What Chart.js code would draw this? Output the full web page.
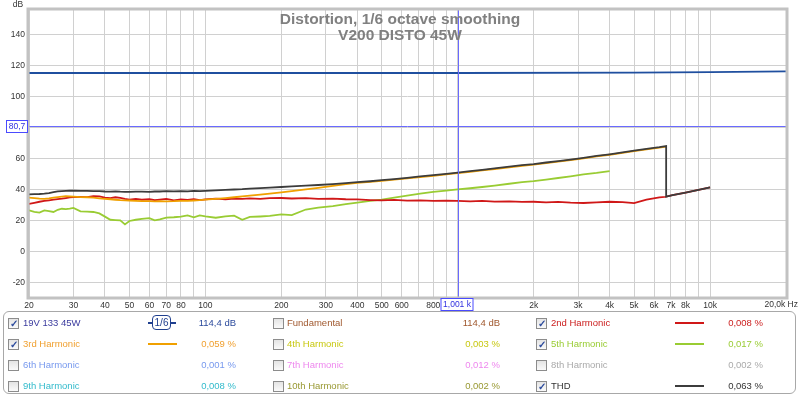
<!DOCTYPE html>
<html>
<head>
<meta charset="utf-8">
<script src="https://cdn.jsdelivr.net/npm/chart.js@4.4.0/dist/chart.umd.min.js"></script>
<style>
  body { margin: 0; background: #fff; font-family: "Liberation Sans", Arial, sans-serif; }
  #wrap { position: relative; width: 800px; height: 398px; overflow: hidden; }
  #chart { position: absolute; left: 0; top: 0; }
  #title { position: absolute; left: 0; top: 11px; width: 800px; text-align: center; color: #808080;
    font-weight: bold; font-size: 15.5px; line-height: 16px; pointer-events: none; }
  #panel { position: absolute; left: 3px; top: 311px; width: 793px; height: 83px;
    border: 1px solid #a8a8a8; border-radius: 6px; box-sizing: border-box; }
  .it { position: absolute; font-size: 9.5px; height: 12px; line-height: 12px; white-space: nowrap; }
  .cb { position: absolute; width: 9px; height: 9px; border: 1px solid #8c8c8c;
    background: linear-gradient(#e4e4e4, #fafafa); color: #2b4a9c; font-size: 10px; line-height: 9px;
    text-align: center; font-weight: bold; }
  .sw { position: absolute; height: 2px; width: 29px; }
  .smooth { position: absolute; width: 28px; height: 16px; }
  .smooth .ln { position: absolute; top: 7px; height: 2px; background: #1f3f8f; }
  .smooth .bx { position: absolute; left: 4px; top: 0; width: 17px; height: 13px; border: 1.5px solid #1f3f8f;
    border-radius: 4px; background: #fff; font-size: 10px; line-height: 13px; text-align: center; color: #1f3f8f; }
</style>
</head>
<body>
<div id="wrap">
  <canvas id="chart" width="800" height="398"></canvas>
  <div id="title">Distortion, 1/6 octave smoothing<br>V200 DISTO 45W</div>
  <div id="panel"></div>
</div>
<script>
// frequencies (Hz) shared by the harmonic curves; 6700 appears twice for the THD step
const freqs = [20, 21, 22, 23, 24, 25, 26, 27, 28, 29, 30, 32, 34, 36, 38, 40, 42, 44, 46, 48,
  50, 53, 56, 60, 63, 66, 70, 75, 80, 85, 90, 95, 100, 110, 120, 130, 140, 150, 165, 180,
  200, 220, 250, 280, 320, 360, 400, 450, 500, 560, 630, 710, 800, 900, 1000, 1120, 1250, 1400, 1600, 1800,
  2000, 2240, 2500, 2800, 3150, 3550, 4000, 4500, 5000, 5600, 6300, 6700, 6700, 7100, 8000, 9000, 10000];

const thd = [36.8, 36.9, 37.0, 37.2, 37.5, 38.2, 38.7, 38.9, 39.0, 39.1, 39.1, 39.0, 39.0, 38.8, 38.9, 38.6, 38.5, 38.7, 38.5, 38.4,
  38.3, 38.5, 38.5, 38.4, 38.6, 38.6, 38.8, 38.7, 38.8, 38.7, 39.0, 38.9, 39.0, 39.3, 39.6, 39.9, 40.1, 40.4, 40.8, 41.1,
  41.5, 41.9, 42.4, 42.8, 43.4, 44.0, 44.6, 45.2, 45.9, 46.6, 47.4, 48.3, 49.1, 50.0, 50.8, 51.7, 52.6, 53.5, 54.6, 55.6,
  56.3, 57.3, 58.2, 59.2, 60.3, 61.5, 62.6, 63.8, 64.9, 66.1, 67.2, 67.9, 35.3, 36.2, 37.9, 39.6, 41.2];

const h3 = [34.6, 34.3, 34.0, 33.9, 34.2, 34.6, 35.0, 35.3, 35.6, 35.5, 35.3, 35.0, 34.9, 34.6, 34.2, 33.9, 33.6, 33.3, 33.0, 32.9,
  32.8, 32.6, 32.4, 32.4, 32.3, 32.4, 32.3, 32.4, 32.6, 32.5, 32.8, 33.0, 33.4, 33.9, 34.4, 34.9, 35.4, 35.9, 36.6, 37.3,
  38.1, 38.9, 40.0, 41.0, 42.3, 43.4, 44.1, 44.8, 45.5, 46.2, 47.0, 47.9, 48.7, 49.6, 50.4, 51.3, 52.2, 53.1, 54.2, 55.2,
  55.9, 56.9, 57.9, 58.9, 60.0, 61.2, 62.3, 63.5, 64.6, 65.8, 66.9, 67.6, null, null, null, null, null];

const h2 = [30.6, 31.3, 32.0, 32.5, 32.9, 33.3, 33.7, 34.0, 34.4, 34.8, 35.0, 35.2, 35.0, 35.6, 35.4, 34.6, 34.4, 34.9, 34.5, 33.8,
  33.4, 33.9, 33.3, 33.6, 33.0, 33.4, 33.8, 32.9, 33.5, 33.2, 33.6, 33.0, 33.5, 34.0, 33.6, 34.1, 33.9, 34.2, 33.8, 34.3,
  34.4, 34.1, 34.3, 33.9, 34.0, 33.6, 33.5, 33.1, 32.9, 33.2, 32.7, 32.9, 32.5, 32.7, 32.5, 32.2, 32.5, 32.1, 32.3, 31.9,
  32.0, 31.6, 31.9, 31.4, 31.2, 31.6, 32.0, 31.8, 31.1, 33.4, 34.8, 35.2, 35.3, 36.2, 37.9, 39.6, 41.2];

const h5 = [26.5, 25.5, 25.0, 26.4, 26.0, 25.4, 26.8, 27.5, 27.3, 27.5, 28.0, 25.8, 25.6, 25.4, 24.5, 22.4, 20.4, 20.2, 20.0, 17.4,
  19.6, 20.4, 20.9, 21.4, 20.0, 20.6, 21.8, 22.0, 22.4, 23.2, 22.0, 23.2, 22.6, 21.7, 22.6, 23.0, 20.4, 22.2, 22.5, 22.9,
  23.8, 23.4, 27.0, 28.2, 29.2, 30.4, 31.4, 32.5, 33.4, 34.6, 35.9, 37.3, 38.4, 39.2, 40.0, 40.7, 41.5, 42.4, 43.6, 44.6,
  45.3, 46.3, 47.3, 48.4, 49.6, 50.6, 51.8, null, null, null, null, null, null, null, null, null, null];

// measurement level (fundamental), full band
const fundFreqs = [20, 100, 1000, 5000, 10000, 20000];
const fundDb = [115.0, 115.0, 115.0, 115.2, 115.5, 116.1];

const xTicks = [20, 30, 40, 50, 60, 70, 80, 90, 100, 200, 300, 400, 500, 600, 700, 800, 900, 1000,
  2000, 3000, 4000, 5000, 6000, 7000, 8000, 9000, 10000, 20000];
const xLabels = ['20', '30', '40', '50', '60', '70', '80', '', '100', '200', '300', '400', '500', '600', '', '800', '', '',
  '2k', '3k', '4k', '5k', '6k', '7k', '8k', '', '10k', ''];
const yTicks = [-20, 0, 20, 40, 60, 80, 100, 120, 140];

const cursorFreq = 1001;
const cursorDb = 80.7;

// legend, row by row
const legNames = ['19V 133 45W', 'Fundamental', '2nd Harmonic', '3rd Harmonic', '4th Harmonic', '5th Harmonic',
  '6th Harmonic', '7th Harmonic', '8th Harmonic', '9th Harmonic', '10th Harmonic', 'THD'];
const legValues = ['114,4 dB', '114,4 dB', '0,008 %', '0,059 %', '0,003 %', '0,017 %',
  '0,001 %', '0,012 %', '0,002 %', '0,008 %', '0,002 %', '0,063 %'];
const legColors = ['#3b3b9e', '#a0582e', '#cc2020', '#f0a030', '#c8c810', '#99cc33',
  '#7799ee', '#ee88ee', '#aaaaaa', '#33bbcc', '#999933', '#333333'];
const legChecked = [true, false, true, true, false, true, false, false, false, false, false, true];

const pts = (xs, ys) => xs.map((f, i) => ({ x: f, y: ys[i] }));

const frame = {
  id: 'frame',
  afterDraw(chart) {
    const { ctx, chartArea: a, scales } = chart;
    ctx.save();
    // cursor lines
    ctx.strokeStyle = '#6a6aff';
    ctx.lineWidth = 1;
    const cy = Math.round(scales.y.getPixelForValue(cursorDb)) + 0.5;
    const cx = Math.round(scales.x.getPixelForValue(cursorFreq)) + 0.5;
    ctx.beginPath();
    ctx.moveTo(a.left, cy); ctx.lineTo(a.right, cy);
    ctx.moveTo(cx, a.top); ctx.lineTo(cx, a.bottom);
    ctx.stroke();
    // border
    ctx.strokeStyle = '#c2c2c2';
    ctx.lineWidth = 3;
    ctx.strokeRect(a.left - 1, a.top - 1, a.right - a.left + 2, a.bottom - a.top + 2);
    // cursor labels
    ctx.font = '8.5px "Liberation Sans", Arial';
    ctx.textBaseline = 'middle';
    ctx.lineWidth = 1;
    ctx.fillStyle = '#fff';
    ctx.fillRect(7, cy - 6, 21, 12);
    ctx.strokeStyle = '#4a4aff';
    ctx.strokeRect(6.5, cy - 6, 21, 12);
    ctx.fillStyle = '#3030e0';
    ctx.textAlign = 'center';
    ctx.fillText('80,7', 17, cy);
    ctx.fillStyle = '#fff';
    ctx.fillRect(cx - 17, 299, 32, 12);
    ctx.strokeRect(cx - 17.5, 298.5, 32, 12);
    ctx.fillStyle = '#3030e0';
    ctx.fillText('1,001 k', cx - 1.5, 305);
    // axis captions
    ctx.fillStyle = '#333';
    ctx.textAlign = 'right';
    ctx.fillText('20,0k Hz', 798, 305);
    ctx.textAlign = 'center';
    ctx.fillText('dB', 18, 5);
    ctx.restore();
  }
};

const tickFont = { family: '"Liberation Sans", Arial', size: 8.5 };

new Chart(document.getElementById('chart'), {
  type: 'line',
  data: {
    datasets: [
      { data: pts(freqs, thd), borderColor: '#3c3c3c' },
      { data: pts(freqs, h3), borderColor: '#f0a000' },
      { data: pts(freqs, h2), borderColor: '#d01818' },
      { data: pts(freqs, h5), borderColor: '#99cc33' },
      { data: pts(fundFreqs, fundDb), borderColor: '#1f4f9f' }
    ]
  },
  options: {
    responsive: false,
    animation: false,
    layout: { padding: { left: 0, top: 10, right: 14, bottom: 0 } },
    elements: {
      point: { radius: 0 },
      line: { borderWidth: 1.8, tension: 0, fill: false }
    },
    plugins: { legend: { display: false }, tooltip: { enabled: false }, title: { display: false } },
    scales: {
      x: {
        type: 'logarithmic',
        min: 20,
        max: 20000,
        afterBuildTicks: s => { s.ticks = xTicks.map(v => ({ value: v })); },
        afterFit: s => { s.height = 101; s.paddingLeft = 0; s.paddingRight = 0; },
        ticks: {
          autoSkip: false,
          maxRotation: 0,
          padding: 4,
          color: '#333',
          font: tickFont,
          callback: (v, i) => xLabels[i]
        },
        grid: { color: '#d0d0d0', drawTicks: false },
        border: { display: false }
      },
      y: {
        min: -29.4,
        max: 155.6,
        afterBuildTicks: s => { s.ticks = yTicks.map(v => ({ value: v })); },
        afterFit: s => { s.width = 29; s.paddingTop = 0; s.paddingBottom = 0; },
        ticks: {
          padding: 4,
          color: '#333',
          font: tickFont,
          callback: v => (v === 80 ? '' : String(v))
        },
        grid: { color: '#d0d0d0', drawTicks: false },
        border: { display: false }
      }
    }
  },
  plugins: [frame]
});

// legend panel
const wrap = document.getElementById('wrap');
const rowY = [323, 344, 365, 386];
const cbX = [8, 273, 536];
const nameX = [23, 287, 551];
const valRight = [236, 500, 763];
const swatchX = [148, 0, 675];
const swatches = { 2: '#d01818', 3: '#f0a000', 5: '#99cc33', 11: '#3c3c3c' };

legNames.forEach((name, i) => {
  const row = Math.floor(i / 3);
  const col = i % 3;
  const y = rowY[row];
  const cb = document.createElement('div');
  cb.className = 'cb';
  cb.style.left = cbX[col] + 'px';
  cb.style.top = (y - 5) + 'px';
  cb.textContent = legChecked[i] ? '\u2713' : '';
  wrap.appendChild(cb);

  const nm = document.createElement('div');
  nm.className = 'it';
  nm.style.left = nameX[col] + 'px';
  nm.style.top = (y - 6) + 'px';
  nm.style.color = legColors[i];
  nm.textContent = name;
  wrap.appendChild(nm);

  const vl = document.createElement('div');
  vl.className = 'it';
  vl.style.right = (800 - valRight[col]) + 'px';
  vl.style.top = (y - 6) + 'px';
  vl.style.color = i === 0 ? '#2b4a9c' : legColors[i];
  vl.textContent = legValues[i];
  wrap.appendChild(vl);

  if (swatches[i]) {
    const sw = document.createElement('div');
    sw.className = 'sw';
    sw.style.left = swatchX[col] + 'px';
    sw.style.top = (y - 1) + 'px';
    sw.style.background = swatches[i];
    wrap.appendChild(sw);
  }
});

// smoothing icon next to the measurement name
const sm = document.createElement('div');
sm.className = 'smooth';
sm.style.left = '148px';
sm.style.top = '315px';
sm.innerHTML = '<div class="ln" style="left:0;width:6px"></div><div class="ln" style="left:22px;width:6px"></div>' +
  '<div class="bx">1/6</div>';
wrap.appendChild(sm);
</script>
</body>
</html>
